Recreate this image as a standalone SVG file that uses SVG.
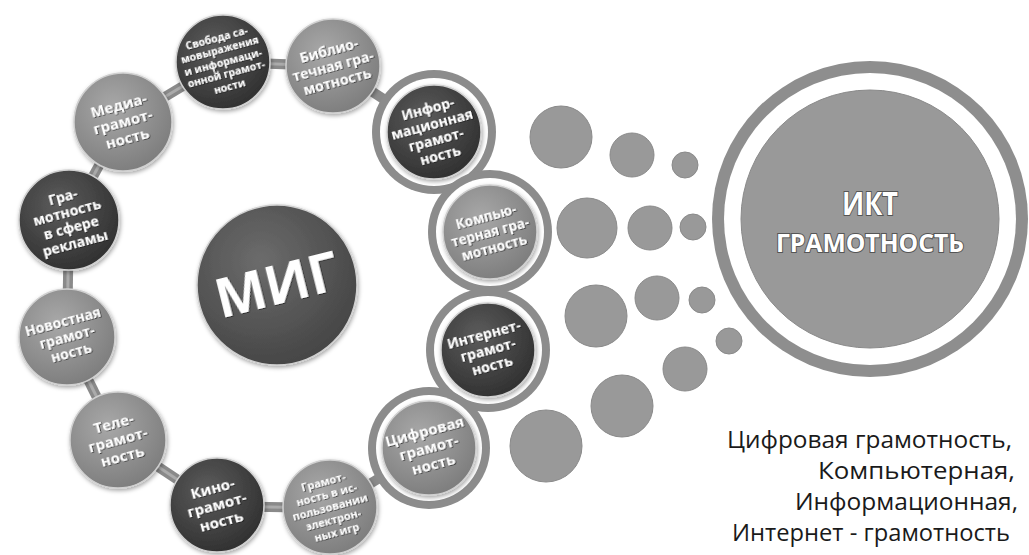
<svg xmlns="http://www.w3.org/2000/svg" width="1029" height="555" viewBox="0 0 1029 555">
<defs>
<radialGradient id="gDark" cx="40%" cy="35%" r="70%"><stop offset="0" stop-color="#5c5c5c"/><stop offset="1" stop-color="#2f2f2f"/></radialGradient>
<radialGradient id="gLight" cx="40%" cy="35%" r="70%"><stop offset="0" stop-color="#a8a8a8"/><stop offset="1" stop-color="#7c7c7c"/></radialGradient>
<radialGradient id="gMig" cx="40%" cy="35%" r="70%"><stop offset="0" stop-color="#6c6c6c"/><stop offset="1" stop-color="#444"/></radialGradient>
<filter id="sh" x="-20%" y="-20%" width="140%" height="140%"><feDropShadow dx="1" dy="2" stdDeviation="2" flood-color="#000" flood-opacity="0.35"/></filter>
<filter id="tsh" x="-10%" y="-10%" width="120%" height="120%"><feDropShadow dx="0.8" dy="0.8" stdDeviation="0.6" flood-color="#111" flood-opacity="0.8"/></filter>
</defs>
<style>
.btn{stroke:#d0d0d0;stroke-width:1.5;filter:url(#sh)}
.dark{fill:url(#gDark)}
.light{fill:url(#gLight)}
.lbl{font-family:"Open Sans","Noto Sans",sans-serif;font-weight:bold;fill:#fff;text-anchor:middle;filter:url(#tsh)}
.ringout{fill:#8c8c8c}
.ringgap{fill:#fff}
.dot{fill:#999;stroke:#8a8a8a;stroke-width:1}
.conn{stroke:#8a8a8a;stroke-width:10;fill:none}
.connh{stroke:#ababab;stroke-width:3;fill:none}
.big{font-family:"Open Sans","Noto Sans",sans-serif;font-weight:bold;fill:#fff;text-anchor:middle;stroke:#555;stroke-width:2;paint-order:stroke}
.side{font-family:"Open Sans","Noto Sans",sans-serif;font-size:23.5px;fill:#1a1a1a;text-anchor:end}
</style>
<rect width="1029" height="555" fill="#fff"/>
<g id="connectors">
<line class="conn" x1="123" y1="122" x2="223" y2="62"/>
<line class="conn" x1="223" y1="62" x2="333" y2="66"/>
<line class="conn" x1="333" y1="66" x2="434" y2="132"/>
<line class="conn" x1="123" y1="122" x2="69" y2="220"/>
<line class="conn" x1="69" y1="220" x2="67" y2="337"/>
<line class="conn" x1="67" y1="337" x2="118" y2="440"/>
<line class="conn" x1="118" y1="440" x2="217" y2="506"/>
<line class="conn" x1="217" y1="506" x2="330" y2="508"/>
<line class="conn" x1="330" y1="508" x2="429" y2="448"/>
<line class="connh" x1="123" y1="122" x2="223" y2="62"/>
<line class="connh" x1="223" y1="62" x2="333" y2="66"/>
<line class="connh" x1="123" y1="122" x2="69" y2="220"/>
<line class="connh" x1="69" y1="220" x2="67" y2="337"/>
<line class="connh" x1="67" y1="337" x2="118" y2="440"/>
<line class="connh" x1="118" y1="440" x2="217" y2="506"/>
<line class="connh" x1="217" y1="506" x2="330" y2="508"/>
</g>
<g id="n-svoboda" transform="translate(223,62)">
<circle class="btn dark" r="47"/>
<text class="lbl" font-size="10.5" transform="rotate(-15)"><tspan x="0" y="-21.3">Свобода са-</tspan><tspan x="0" y="-8.8">мовыражения</tspan><tspan x="0" y="3.7">и информаци-</tspan><tspan x="0" y="16.2">онной грамот-</tspan><tspan x="0" y="28.7">ности</tspan></text>
</g>
<g id="n-biblio" transform="translate(333,66)">
<circle class="btn light" r="47"/>
<text class="lbl" font-size="14" transform="rotate(-15)"><tspan x="0" y="-11">Библио-</tspan><tspan x="0" y="5">течная гра-</tspan><tspan x="0" y="21">мотность</tspan></text>
</g>
<g id="n-media" transform="translate(123,122)">
<circle class="btn light" r="49"/>
<text class="lbl" font-size="15" transform="rotate(-15)"><tspan x="0" y="-12">Медиа-</tspan><tspan x="0" y="5">грамот-</tspan><tspan x="0" y="22">ность</tspan></text>
</g>
<g id="n-reklama" transform="translate(69,220)">
<circle class="btn dark" r="50"/>
<text class="lbl" font-size="14" transform="rotate(-15)"><tspan x="0" y="-19">Гра-</tspan><tspan x="0" y="-3">мотность</tspan><tspan x="0" y="13">в сфере</tspan><tspan x="0" y="29">рекламы</tspan></text>
</g>
<g id="n-novost" transform="translate(67,337)">
<circle class="btn light" r="48"/>
<text class="lbl" font-size="14" transform="rotate(-15)"><tspan x="0" y="-11">Новостная</tspan><tspan x="0" y="5">грамот-</tspan><tspan x="0" y="21">ность</tspan></text>
</g>
<g id="n-tele" transform="translate(118,440)">
<circle class="btn light" r="48"/>
<text class="lbl" font-size="15" transform="rotate(-15)"><tspan x="0" y="-12">Теле-</tspan><tspan x="0" y="5">грамот-</tspan><tspan x="0" y="22">ность</tspan></text>
</g>
<g id="n-kino" transform="translate(217,505)">
<circle class="btn dark" r="47"/>
<text class="lbl" font-size="15" transform="rotate(-15)"><tspan x="0" y="-12">Кино-</tspan><tspan x="0" y="5">грамот-</tspan><tspan x="0" y="22">ность</tspan></text>
</g>
<g id="n-igry" transform="translate(330,507)">
<circle class="btn light" r="47"/>
<text class="lbl" font-size="11" transform="rotate(-15)"><tspan x="0" y="-22">Грамот-</tspan><tspan x="0" y="-9">ность в ис-</tspan><tspan x="0" y="4">пользовании</tspan><tspan x="0" y="17">электрон-</tspan><tspan x="0" y="30">ных игр</tspan></text>
</g>
<g id="n-mig" transform="translate(277,285)">
<circle class="btn" fill="url(#gMig)" r="80"/>
<text class="lbl" font-size="54" transform="rotate(-14)"><tspan x="0" y="19">МИГ</tspan></text>
</g>
<g id="n-inform" transform="translate(434,132)">
<circle class="ringout" r="62"/>
<circle class="ringgap" r="54"/>
<circle class="btn dark" r="47"/>
<text class="lbl" font-size="14" transform="rotate(-15)"><tspan x="0" y="-19">Инфор-</tspan><tspan x="0" y="-3">мационная</tspan><tspan x="0" y="13">грамот-</tspan><tspan x="0" y="29">ность</tspan></text>
</g>
<g id="n-komp" transform="translate(490,232)">
<circle class="ringout" r="62"/>
<circle class="ringgap" r="54"/>
<circle class="btn light" r="47"/>
<text class="lbl" font-size="13.5" transform="rotate(-15)"><tspan x="0" y="-11">Компью-</tspan><tspan x="0" y="5">терная гра-</tspan><tspan x="0" y="21">мотность</tspan></text>
</g>
<g id="n-internet" transform="translate(488,350)">
<circle class="ringout" r="62"/>
<circle class="ringgap" r="54"/>
<circle class="btn dark" r="47"/>
<text class="lbl" font-size="14" transform="rotate(-15)"><tspan x="0" y="-11">Интернет-</tspan><tspan x="0" y="5">грамот-</tspan><tspan x="0" y="21">ность</tspan></text>
</g>
<g id="n-cifr" transform="translate(429,448)">
<circle class="ringout" r="61"/>
<circle class="ringgap" r="53"/>
<circle class="btn light" r="47"/>
<text class="lbl" font-size="15" transform="rotate(-15)"><tspan x="0" y="-12">Цифровая</tspan><tspan x="0" y="5">грамот-</tspan><tspan x="0" y="22">ность</tspan></text>
</g>
<g id="dots">
<circle class="dot" cx="561" cy="137" r="31"/>
<circle class="dot" cx="632" cy="155" r="22"/>
<circle class="dot" cx="685" cy="165" r="13"/>
<circle class="dot" cx="587" cy="228" r="30"/>
<circle class="dot" cx="650" cy="228" r="22"/>
<circle class="dot" cx="693" cy="227" r="13"/>
<circle class="dot" cx="596" cy="316" r="31"/>
<circle class="dot" cx="657" cy="298" r="22"/>
<circle class="dot" cx="702" cy="300" r="13"/>
<circle class="dot" cx="622" cy="406" r="31"/>
<circle class="dot" cx="685" cy="369" r="22"/>
<circle class="dot" cx="729" cy="341" r="13"/>
<circle class="dot" cx="546" cy="446" r="36"/>
</g>
<g id="n-ikt" transform="translate(870,219)">
<circle r="158" fill="#8e8e8e"/>
<circle r="146" fill="#fff"/>
<circle r="129" fill="#999" stroke="#8a8a8a" stroke-width="1"/>
<text class="big" font-size="32" x="0" y="-4" textLength="56" lengthAdjust="spacingAndGlyphs">ИКТ</text>
<text class="big" font-size="25" x="0" y="33" textLength="188" lengthAdjust="spacingAndGlyphs">ГРАМОТНОСТЬ</text>
</g>
<g id="side-text">
<text class="side" x="1012" y="448" textLength="285" lengthAdjust="spacingAndGlyphs">Цифровая грамотность,</text>
<text class="side" x="1015" y="479" textLength="197" lengthAdjust="spacingAndGlyphs">Компьютерная,</text>
<text class="side" x="1018" y="510" textLength="223" lengthAdjust="spacingAndGlyphs">Информационная,</text>
<text class="side" x="1010" y="541" textLength="278" lengthAdjust="spacingAndGlyphs">Интернет - грамотность</text>
</g>
</svg>
